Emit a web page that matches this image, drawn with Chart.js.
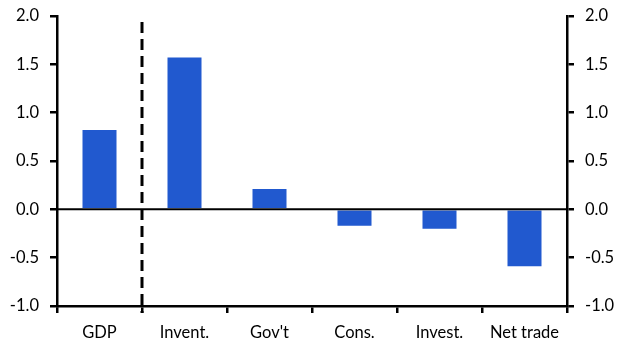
<!DOCTYPE html>
<html>
<head>
<meta charset="utf-8">
<script src="https://cdn.jsdelivr.net/npm/chart.js@4"></script>
<style>
  html, body { margin: 0; padding: 0; background: #fff; }
  #wrap { width: 627px; height: 360px; position: relative; }
</style>
</head>
<body>
<div id="wrap"><canvas id="chart"></canvas></div>
<script>
// contributions, % pts
const categories = ['GDP', 'Invent.', "Gov't", 'Cons.', 'Invest.', 'Net trade'];
const contributions = [0.82, 1.57, 0.21, -0.17, -0.20, -0.59];
const yTicks = [-1.0, -0.5, 0.0, 0.5, 1.0, 1.5, 2.0];

const FONT = { family: 'Lato, "Noto Sans", sans-serif', size: 16.5 };

// zero line + dashed divider after GDP
const extras = {
  id: 'extras',
  afterDraw(chart) {
    const { ctx, chartArea, scales } = chart;
    const y0 = scales.y.getPixelForValue(0);
    ctx.save();
    ctx.strokeStyle = '#000';
    ctx.lineWidth = 2;
    ctx.beginPath();
    ctx.moveTo(chartArea.left, y0);
    ctx.lineTo(chartArea.right, y0);
    ctx.stroke();
    const xd = (scales.x.getPixelForValue(0) + scales.x.getPixelForValue(1)) / 2;
    ctx.setLineDash([11, 6]);
    ctx.lineWidth = 3;
    ctx.beginPath();
    ctx.moveTo(xd, chartArea.top + 6);
    ctx.lineTo(xd, chartArea.bottom + 7);
    ctx.stroke();
    ctx.restore();
  }
};

const yAxis = (pos, w) => ({
  position: pos,
  min: -1, max: 2,
  afterBuildTicks: s => { s.ticks = yTicks.map(v => ({ value: v })); },
  afterFit: s => { s.width = w; s.paddingTop = 0; s.paddingBottom = 0; },
  border: { color: '#000', width: 2.5 },
  grid: { drawOnChartArea: false, color: '#000', tickLength: 7, lineWidth: 2.5 },
  ticks: { color: '#000', font: FONT, padding: 11, callback: v => v.toFixed(1) }
});

new Chart(document.getElementById('chart'), {
  type: 'bar',
  data: {
    labels: categories,
    datasets: [{
      data: contributions,
      backgroundColor: '#2159CF',
      categoryPercentage: 0.8,
      barPercentage: 0.5
    }]
  },
  options: {
    responsive: true,
    maintainAspectRatio: false,
    animation: false,
    layout: { padding: { top: 16 } },
    plugins: { legend: { display: false }, tooltip: { enabled: false } },
    scales: {
      x: {
        offset: true,
        afterFit: s => { s.height = 54; s.paddingLeft = 0; s.paddingRight = 0; },
        border: { color: '#000', width: 2.5 },
        grid: { offset: true, drawOnChartArea: false, color: '#000', tickLength: 7, lineWidth: 2.5 },
        ticks: { color: '#000', font: FONT, padding: 10 }
      },
      y: yAxis('left', 57),
      y2: yAxis('right', 60)
    }
  },
  plugins: [extras]
});
</script>
</body>
</html>
